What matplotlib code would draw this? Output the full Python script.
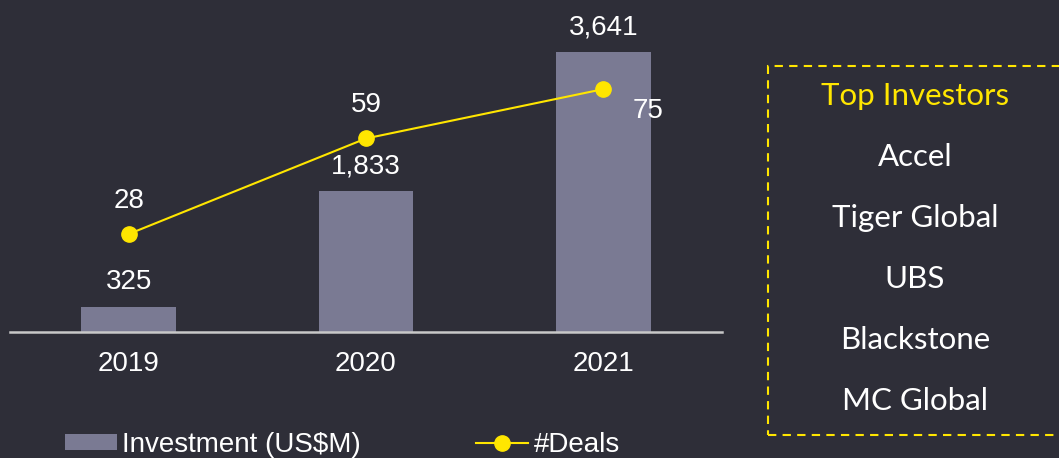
import matplotlib
matplotlib.use("Agg")
import matplotlib.pyplot as plt
from matplotlib.patches import Rectangle, Patch
from matplotlib.lines import Line2D

years = ["2019", "2020", "2021"]
investment = [325, 1833, 3641]
deals = [28, 59, 75]
investors = ["Accel", "Tiger Global", "UBS", "Blackstone", "MC Global"]

bg = "#2e2e38"
bar_color = "#7a7a93"
yellow = "#ffe600"
W, H = 1059, 458

plt.rcParams["font.family"] = ["Liberation Sans", "DejaVu Sans"]

fig = plt.figure(figsize=(W / 100, H / 100), dpi=100, facecolor=bg)
ax = fig.add_axes([10 / W, (H - 332) / H, 712 / W, 332 / H])
ax.set_facecolor(bg)

x = list(range(len(years)))
ax.bar(x, investment, width=0.4, color=bar_color, zorder=2)
ax.set_xlim(-0.5, 2.5)
ax.set_ylim(0, 3641 * 332 / 280)
for xi, v in zip(x, investment):
    ax.annotate(f"{v:,}", (xi, v), xytext=(0, 18), textcoords="offset points",
                ha="center", va="center", color="white", fontsize=20)

ax.set_xticks(x)
ax.set_xticklabels(years, color="white", fontsize=20)
ax.tick_params(axis="x", length=0, pad=14)
ax.set_yticks([])
for s in ["top", "right", "left"]:
    ax.spines[s].set_visible(False)
ax.spines["bottom"].set_color("#c8c8c8")
ax.spines["bottom"].set_linewidth(1.8)

ax2 = ax.twinx()
ax2.set_ylim(-3.76, 103.9)
ax2.plot(x, deals, color=yellow, lw=1.5, marker="o", markersize=11, zorder=3)
ax2.set_yticks([])
for s in ax2.spines.values():
    s.set_visible(False)
offsets = [(0, 24), (0, 24), (32, -16)]
for xi, v, off in zip(x, deals, offsets):
    ax2.annotate(str(v), (xi, v), xytext=off, textcoords="offset points",
                 ha="center", va="center", color="white", fontsize=20)

handles = [Patch(facecolor=bar_color, edgecolor="none"),
           Line2D([0], [0], color=yellow, lw=1.5, marker="o", markersize=11)]
fig.legend(handles, ["Investment (US$M)", "#Deals"], loc="center left",
           bbox_to_anchor=(51 / W, 1 - 445 / H), ncol=2, frameon=False,
           fontsize=20, labelcolor="white", handlelength=1.87, handletextpad=0.2,
           columnspacing=4.15, borderpad=0, handleheight=0.5)

# top investors box
box = Rectangle((768 / W, 1 - 435 / H), 300 / W, 369 / H, transform=fig.transFigure,
                fill=False, edgecolor=yellow, lw=1.5, linestyle=(0, (4, 3)))
fig.add_artist(box)
fig.text(915 / W, 1 - 96 / H, "Top Investors", color=yellow, fontsize=22.5,
         family="Lato", ha="center", va="center")
for i, name in enumerate(investors):
    fig.text(915 / W, 1 - (157 + 61 * i) / H, name, color="white", fontsize=22.5,
             family="Lato", ha="center", va="center")

fig.savefig("out.png", dpi=100, facecolor=bg)
